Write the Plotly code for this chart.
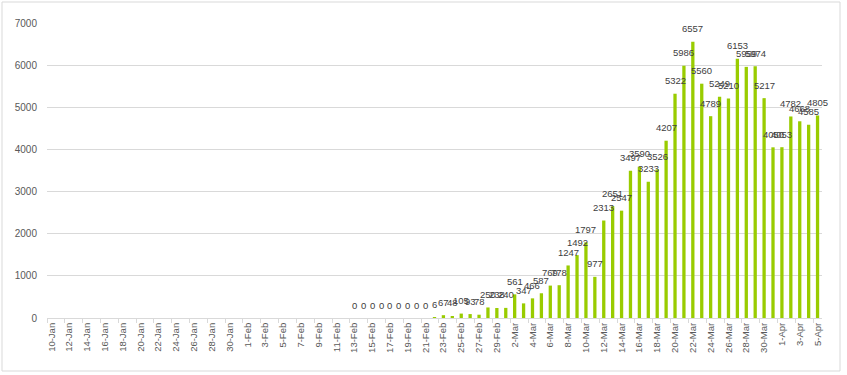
import pandas as pd
import plotly.graph_objects as go

# Category axis: one bar slot per day, 10-Jan to 5-Apr (2020)
start_date = "2020-01-10"
end_date = "2020-04-05"
dates = pd.date_range(start_date, end_date, freq="D")
categories = [f"{d.day}-{d.strftime('%b')}" for d in dates]

# Days with no value (10-Jan .. 12-Feb)
n_missing = 34
# Values from 13-Feb to 5-Apr
reported = [0, 0, 0, 0, 0, 0, 0, 0, 0,           # 13-Feb .. 21-Feb
            6, 67, 48, 105, 93, 78, 250, 238, 240, # 22-Feb .. 1-Mar
            561, 347, 466, 587, 769, 778, 1247, 1492, 1797, 977,
            2313, 2651, 2547, 3497, 3590, 3233, 3526, 4207, 5322, 5986,
            6557, 5560, 4789, 5249, 5210, 6153, 5959, 5974, 5217, 4050,
            4053, 4782, 4668, 4585, 4805]
values = [None] * n_missing + reported

y_ticks = [0, 1000, 2000, 3000, 4000, 5000, 6000, 7000]

BAR_COLOR = "#99CC00"
GRID = "#D9D9D9"
TICK_TXT = "#595959"
FONT = "Liberation Sans"

fig = go.Figure()
fig.add_trace(go.Bar(
    x=categories, y=values,
    marker=dict(color=BAR_COLOR, line=dict(width=0)),
    hoverinfo="x+y",
))

annotations = []
for c, v in zip(categories, values):
    if v is None:
        continue
    annotations.append(dict(
        x=c, y=v, xref="x", yref="y", text=str(v), showarrow=False,
        yanchor="middle", xanchor="center", yshift=13,
        font=dict(family=FONT, size=9.5, color="#404040"),
    ))

# Plot area in pixels: x 46.5..821.7, y 22.7..318
pl, pr, pt, pb = 47, 25, 23, 57
W, H = 847, 375
pw = W - pl - pr
ph = H - pt - pb

def px_to_paper_x(px):
    return (px - pl) / pw

def px_to_paper_y(py):
    return (H - pb - py) / ph

fig.update_layout(
    width=W, height=H,
    margin=dict(l=pl, r=pr, t=pt, b=pb),
    paper_bgcolor="white", plot_bgcolor="white",
    showlegend=False,
    bargap=0.63,
    font=dict(family=FONT, size=10, color=TICK_TXT),
    annotations=annotations,
    shapes=[dict(
        type="rect", xref="paper", yref="paper",
        x0=px_to_paper_x(2), x1=px_to_paper_x(840),
        y0=px_to_paper_y(371), y1=px_to_paper_y(2),
        line=dict(color=GRID, width=1), fillcolor="rgba(0,0,0,0)",
        layer="below",
    )],
)

fig.update_xaxes(
    type="category",
    categoryorder="array", categoryarray=categories,
    tickmode="linear", tick0=0, dtick=2,
    tickson="boundaries",
    ticks="outside", ticklen=4, tickcolor=GRID, tickwidth=1,
    tickangle=-90,
    tickfont=dict(family=FONT, size=9.5, color=TICK_TXT),
    showline=True, linecolor=GRID, linewidth=1,
    showgrid=False, zeroline=False,
    range=[-0.5, len(categories) - 0.5],
)
fig.update_yaxes(
    range=[0, 7000],
    tickmode="array", tickvals=y_ticks, ticktext=[str(t) for t in y_ticks],
    showgrid=True, gridcolor=GRID, gridwidth=1,
    zeroline=False, showline=False,
    ticks="", ticklabelstandoff=9,
    tickfont=dict(family=FONT, size=10, color=TICK_TXT),
)

fig.write_html(
    "out.html",
    config={"displayModeBar": False},
    post_script="document.body.style.margin='0';",
)
